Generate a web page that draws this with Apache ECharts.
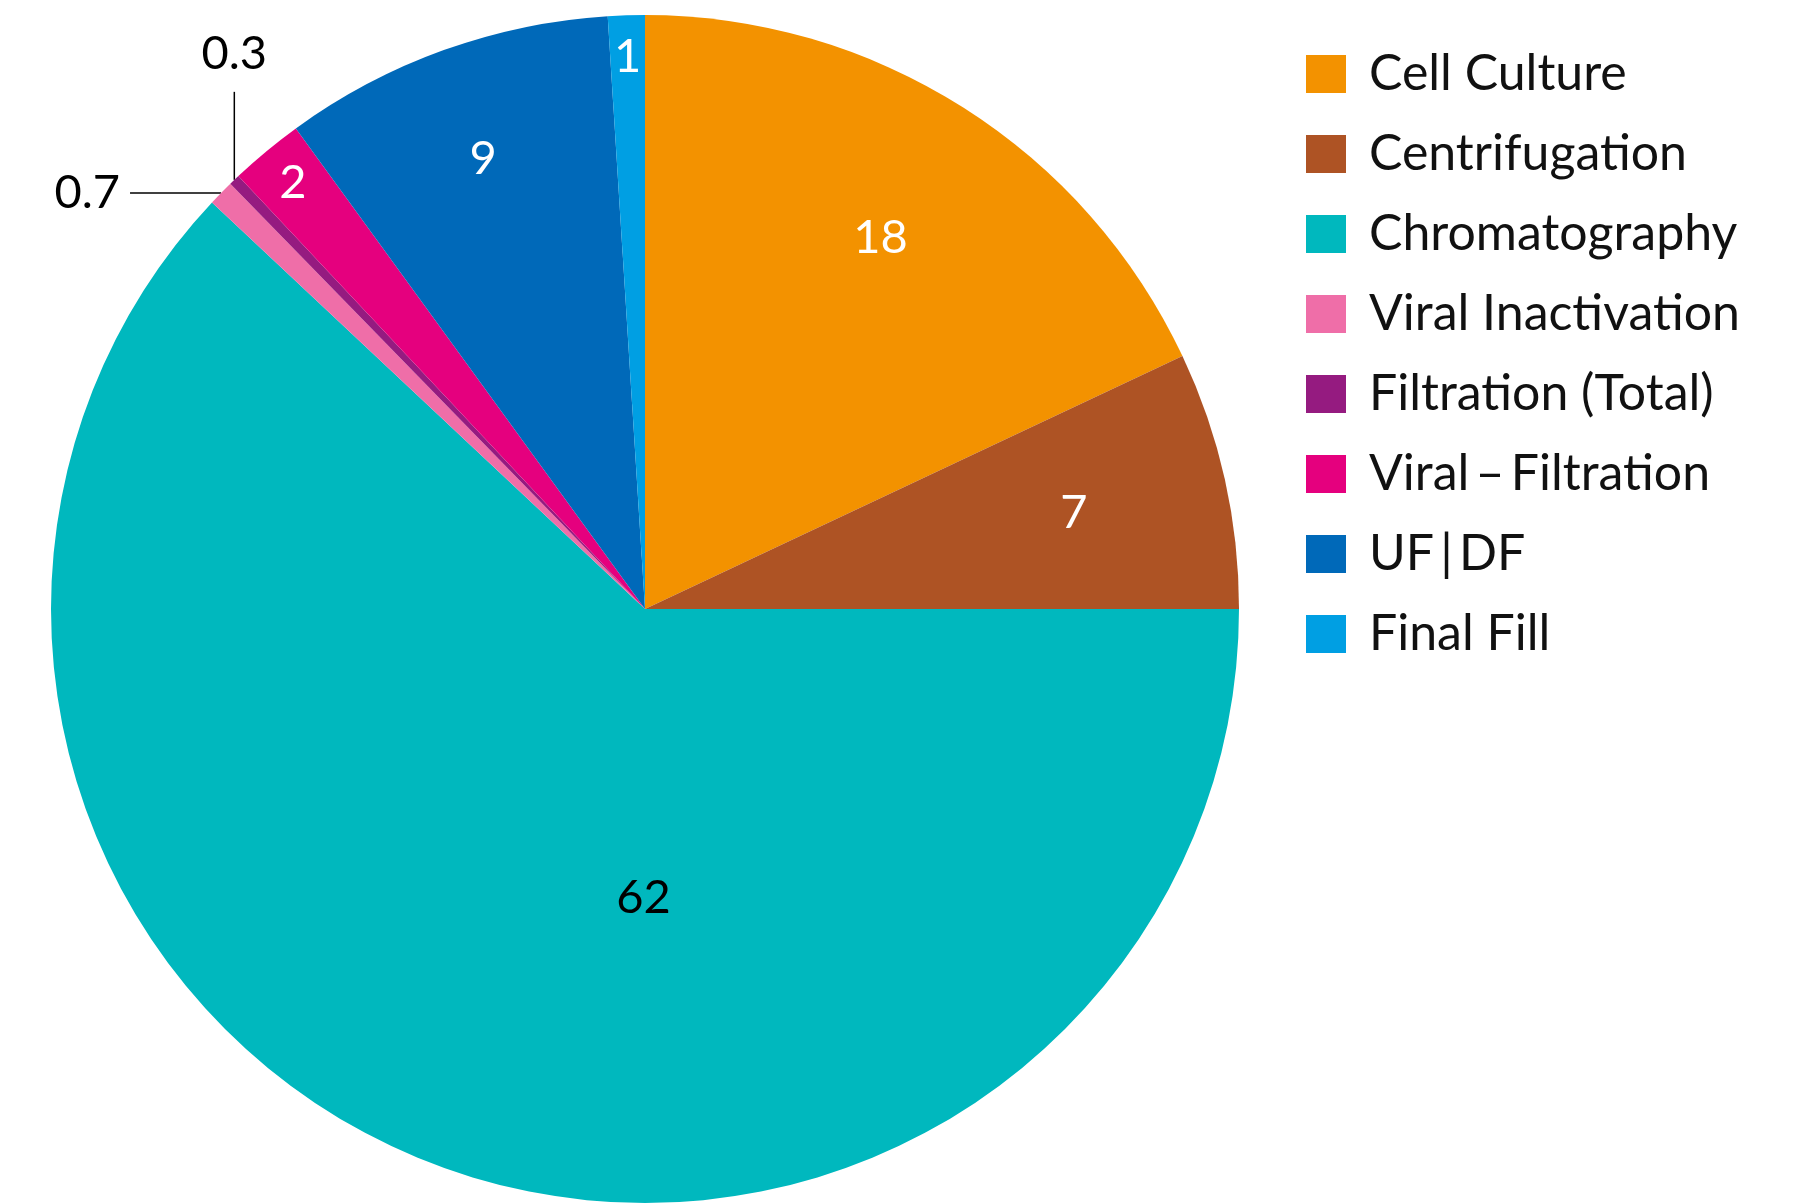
<!DOCTYPE html>
<html><head><meta charset="utf-8">
<script src="https://cdn.jsdelivr.net/npm/echarts@6/dist/echarts.min.js"></script>
<style>html,body{margin:0;padding:0;background:#fff}#c{width:1800px;height:1204px}</style>
</head><body><div id="c"></div>
<script>
const categories = ['Cell Culture','Centrifugation','Chromatography','Viral Inactivation','Filtration (Total)','Viral\u2009\u2013\u2009Filtration','UF\u2009|\u2009DF','Final Fill'];
const values = [18, 7, 62, 0.7, 0.3, 2, 9, 1];
const colors = ['#F39200','#AE5324','#00B8BE','#EF6EA8','#951B80','#E5007E','#0069B9','#009FE3'];

const FONT = 'Lato';
const R = 594;
const CENTER = [645, 609];

// label radial fractions (style) for the inside labels shown by overlay series
const labelGroups = [
  {frac: 0.735, idx: [0, 1]},
  {frac: 0.80, idx: [6]},
  {frac: 0.925, idx: [5, 7]}
];

const mainData = values.map((v, i) => {
  const d = {name: categories[i], value: v, itemStyle: {color: colors[i]}};
  if (i === 2) {
    d.label = {show: true, position: 'inside', color: '#000', offset: [109, 10]};
  } else if (i === 3 || i === 4) {
    d.label = {show: true, position: 'outside', color: '#000'};
    d.labelLine = {show: true, length: 0, length2: 60, lineStyle: {color: '#000', width: 1.5}};
  } else {
    d.label = {show: false};
    d.labelLine = {show: false};
  }
  return d;
});

const overlaySeries = labelGroups.map((g, gi) => ({
  type: 'pie', silent: true, center: CENTER, radius: [0, 2 * g.frac * R],
  startAngle: 90, clockwise: true, z: 5 + gi,
  emphasis: {disabled: true},
  avoidLabelOverlap: false,
  itemStyle: {color: 'rgba(0,0,0,0)', borderWidth: 0},
  labelLine: {show: false},
  label: {show: true, position: 'inside', formatter: '{c}', color: '#fff', fontFamily: FONT, fontSize: 47},
  data: values.map((v, i) => ({
    name: 'lbl' + gi + '_' + i, value: v,
    label: {show: g.idx.indexOf(i) >= 0}
  }))
}));

const chart = echarts.init(document.getElementById('c'), null, {renderer: 'canvas'});
chart.setOption({
  animation: false,
  backgroundColor: '#fff',
  legend: {
    orient: 'vertical', left: 1306, top: 49, padding: 0,
    data: categories,
    itemWidth: 40, itemHeight: 38, itemGap: 30,
    icon: 'rect',
    selectedMode: false,
    textStyle: {fontFamily: FONT, fontSize: 50, color: '#111', padding: [0, 0, 0, 18]}
  },
  series: [{
    type: 'pie', center: CENTER, radius: [0, R],
    startAngle: 90, clockwise: true,
    avoidLabelOverlap: false,
    emphasis: {disabled: true},
    itemStyle: {borderWidth: 0},
    label: {formatter: '{c}', fontFamily: FONT, fontSize: 47, color: '#000'},
    labelLayout: function (p) {
      const pts = p.labelLinePoints;
      if (!pts || !pts[0]) return {};
      const a = pts[0];
      if (p.dataIndex === 3) {
        return {x: a[0] - 101, y: a[1], align: 'right', verticalAlign: 'middle',
          labelLinePoints: [[a[0], a[1]], [a[0] - 91, a[1]], [a[0] - 91, a[1]]]};
      }
      if (p.dataIndex === 4) {
        return {x: a[0], y: a[1] - 103, align: 'center', verticalAlign: 'bottom',
          labelLinePoints: [[a[0], a[1]], [a[0], a[1] - 88], [a[0], a[1] - 88]]};
      }
      return {};
    },
    data: mainData
  }].concat(overlaySeries)
});
</script></body></html>
